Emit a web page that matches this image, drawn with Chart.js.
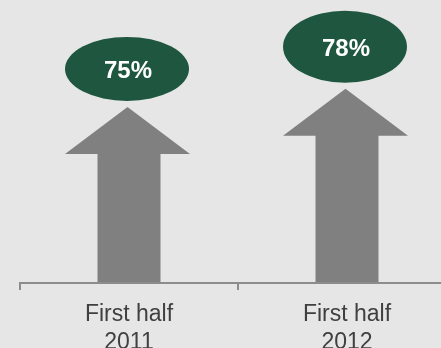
<!DOCTYPE html>
<html>
<head>
<meta charset="utf-8">
<script src="https://cdn.jsdelivr.net/npm/chart.js@4.4.1/dist/chart.umd.min.js"></script>
<style>
  html, body { margin: 0; padding: 0; background: #e6e6e6; overflow: hidden; }
  #wrap { position: relative; width: 456px; height: 348px; }
</style>
</head>
<body>
<div id="wrap"><canvas id="c"></canvas></div>
<script>
const categories = [["First half", "2011"], ["First half", "2012"]];
const values = [75, 78];
const valueLabels = ["75%", "78%"];

const arrowPlugin = {
  id: 'arrows',
  beforeDatasetsDraw(chart, args, opts) {
    const ctx = chart.ctx;
    const meta = chart.getDatasetMeta(0);
    meta.data.forEach((bar, i) => {
      const x = bar.x, tip = bar.y;
      const base = Math.min(bar.base, chart.chartArea.bottom - 1);
      const shaftHalf = opts.shaftWidth / 2;
      const headHalf = opts.headWidth / 2;
      const headBase = tip + opts.headHeight;
      ctx.save();
      ctx.fillStyle = opts.arrowColor;
      ctx.beginPath();
      ctx.moveTo(x - shaftHalf, base);
      ctx.lineTo(x - shaftHalf, headBase);
      ctx.lineTo(x - headHalf, headBase);
      ctx.lineTo(x - 1.5, tip);
      ctx.lineTo(x + headHalf - 3, headBase);
      ctx.lineTo(x + shaftHalf, headBase);
      ctx.lineTo(x + shaftHalf, base);
      ctx.closePath();
      ctx.fill();
      // badge
      const ry = opts.badgeRy[i];
      const cx = x - 2;
      const cy = tip - opts.badgeGap - ry;
      ctx.fillStyle = opts.badgeColor;
      ctx.beginPath();
      ctx.ellipse(cx, cy, opts.badgeRx, ry, 0, 0, Math.PI * 2);
      ctx.fill();
      ctx.fillStyle = '#ffffff';
      ctx.font = 'bold 24px "Liberation Sans", Arial, sans-serif';
      ctx.textAlign = 'center';
      ctx.textBaseline = 'alphabetic';
      ctx.fillText(valueLabels[i], cx + 1, cy + 9.5);
      ctx.restore();
    });
  }
};

new Chart(document.getElementById('c'), {
  type: 'bar',
  data: {
    labels: categories,
    datasets: [{
      data: values,
      backgroundColor: 'rgba(0,0,0,0)',
      borderWidth: 0
    }]
  },
  options: {
    responsive: true,
    maintainAspectRatio: false,
    animation: false,
    events: [],
    layout: { padding: { left: 20, right: 0, top: 0, bottom: 0 } },
    plugins: {
      legend: { display: false },
      tooltip: { enabled: false },
      arrows: {
        arrowColor: '#808080',
        badgeColor: '#1e5640',
        shaftWidth: 63,
        headWidth: 128,
        headHeight: 47,
        badgeRx: 62,
        badgeRy: [32, 36],
        badgeGap: 6
      }
    },
    scales: {
      x: {
        offset: true,
        border: { display: true, color: '#8c8c8c', width: 2 },
        grid: { display: true, drawOnChartArea: false, drawTicks: true, tickLength: 7, color: '#8c8c8c', lineWidth: 2, offset: true },
        ticks: {
          color: '#404040',
          padding: 11,
          font: { family: '"Liberation Sans", Arial, sans-serif', size: 23, lineHeight: 1.2 },
          maxRotation: 0
        },
        afterFit(scale) { scale.height = 65; }
      },
      y: {
        display: false,
        min: 46,
        max: 92.6
      }
    }
  },
  plugins: [arrowPlugin]
});
</script>
</body>
</html>
